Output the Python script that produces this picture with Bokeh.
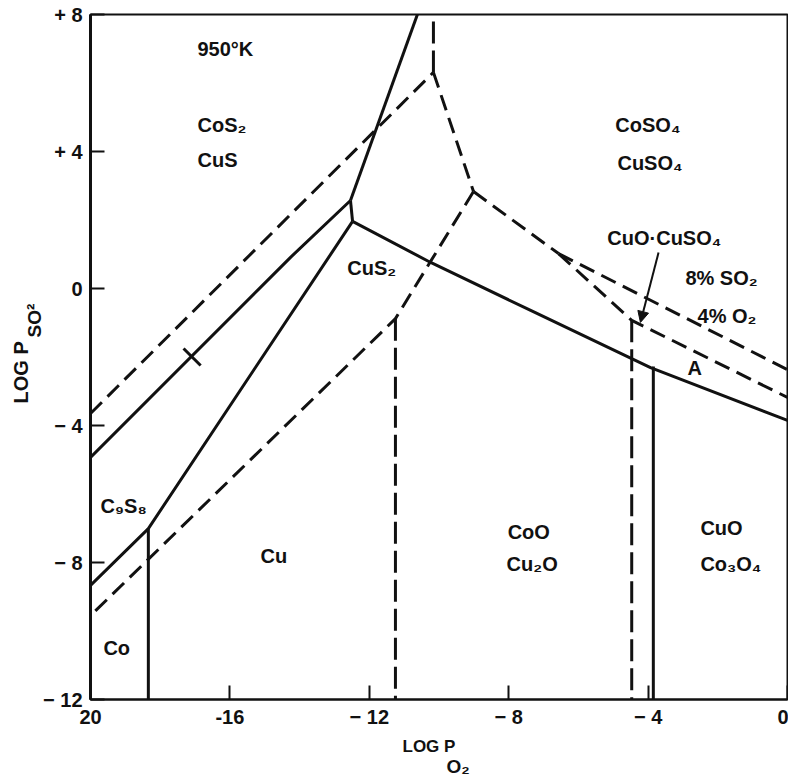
from bokeh.plotting import figure
from bokeh.models import Range1d, FixedTicker, Label, Arrow, NormalHead, Title
from bokeh.embed import file_html
from bokeh.resources import INLINE

# ---------------- data (log P_O2 , log P_SO2) ----------------
x_ticks = [-20, -16, -12, -8, -4, 0]
x_tick_labels = ["20", "-16", "\u2212 12", "\u2212 8", "\u2212 4", "0"]
y_ticks = [8, 4, 0, -4, -8, -12]
y_tick_labels = ["+ 8", "+ 4", "0", "\u2212 4", "\u2212 8", "\u2212 12"]

# solid phase boundaries
solid_a_x = [-20.0, -14.26, -12.54]
solid_a_y = [-4.93, 0.91, 2.57]
solid_b_x = [-12.54, -10.62]
solid_b_y = [2.57, 8.0]
solid_c_x = [-12.54, -12.48]
solid_c_y = [2.57, 1.96]
solid_d_x = [-20.0, -18.34, -12.48]
solid_d_y = [-8.67, -7.01, 1.96]
solid_e_x = [-12.48, -10.24, -7.37, -3.93, 0.0]
solid_e_y = [1.96, 0.76, -0.64, -2.31, -3.85]
solid_f_x = [-18.34, -18.34]
solid_f_y = [-7.01, -12.0]
solid_g_x = [-3.85, -3.85]
solid_g_y = [-2.28, -12.0]

# dashed phase boundaries
dash_a_x = [-20.0, -10.16]
dash_a_y = [-3.65, 6.31]
dash_c_x = [-10.16, -9.01]
dash_c_y = [6.31, 2.83]
dash_d_x = [-9.01, -11.25, -20.0]
dash_d_y = [2.83, -0.88, -9.55]
dash_f_x = [-9.01, -6.57]
dash_f_y = [2.83, 1.02]
dash_g_x = [-6.57, 0.0]
dash_g_y = [1.02, -2.37]
dash_h_x = [-6.57, -4.47, 0.0]
dash_h_y = [1.02, -0.93, -3.18]

# vertical dashed boundaries
vdash_b_x = [-10.16, -10.16]
vdash_b_y = [6.31, 8.0]
vdash_e_x = [-11.25, -11.25]
vdash_e_y = [-0.88, -12.0]
vdash_i_x = [-4.47, -4.47]
vdash_i_y = [-0.93, -12.0]

# small cross mark on the upper solid line
mark_x = [-17.33, -16.84]
mark_y = [-1.75, -2.25]

# arrow from CuO.CuSO4 label
arrow_x = [-3.70, -4.22]
arrow_y = [1.05, -0.99]

# region labels: text, x, y
region_texts = ["950\u00b0K", "CoS\u2082", "CuS", "CuS\u2082", "CoSO\u2084", "CuSO\u2084",
                "CuO\u00b7CuSO\u2084", "8% SO\u2082", "4% O\u2082", "A", "C\u2089S\u2088",
                "Cu", "Co", "CoO", "Cu\u2082O", "CuO", "Co\u2083O\u2084"]
region_x = [-16.93, -16.93, -16.93, -12.63, -4.94, -4.88,
            -5.17, -2.93, -2.58, -2.87, -19.71,
            -15.12, -19.63, -8.03, -8.06, -2.5, -2.5]
region_y = [7.0, 4.76, 3.74, 0.61, 4.76, 3.65,
            1.46, 0.32, -0.79, -2.31, -6.34,
            -7.8, -10.5, -7.12, -8.03, -6.98, -8.03]

# axis titles (main text and subscript)
x_title = ["LOG P", "O\u2082"]
y_title = ["SO\u00b2", "LOG P"]

FONT = "Liberation Sans"
INK = "#111111"

p = figure(width=788, height=777, x_range=Range1d(-20, 0), y_range=Range1d(-12, 8),
           output_backend="svg", toolbar_location=None,
           min_border_left=90, min_border_right=1, min_border_top=14, min_border_bottom=78)
p.background_fill_color = "white"
p.border_fill_color = "white"
p.xgrid.visible = False
p.ygrid.visible = False
p.outline_line_color = INK
p.outline_line_width = 2
p.outline_line_alpha = 1.0

for ax, ticks, labels in ((p.xaxis, x_ticks, x_tick_labels), (p.yaxis, y_ticks, y_tick_labels)):
    ax.ticker = FixedTicker(ticks=ticks)
    ax.major_label_overrides = {t: l for t, l in zip(ticks, labels)}
    ax.major_tick_in = 14
    ax.major_tick_out = 0
    ax.minor_tick_in = 0
    ax.minor_tick_out = 0
    ax.major_tick_line_width = 2
    ax.major_tick_line_color = INK
    ax.axis_line_color = INK
    ax.major_label_text_font = FONT
    ax.major_label_text_font_style = "bold"
    ax.major_label_text_font_size = "20px"
    ax.major_label_text_color = INK
    ax.major_label_standoff = 8
p.xaxis.axis_line_width = 2
p.yaxis.axis_line_width = 3
p.xaxis.major_label_standoff = 6

solids = [(solid_a_x, solid_a_y), (solid_b_x, solid_b_y), (solid_c_x, solid_c_y),
          (solid_d_x, solid_d_y), (solid_e_x, solid_e_y), (solid_f_x, solid_f_y),
          (solid_g_x, solid_g_y), (mark_x, mark_y)]
for xs, ys in solids:
    p.line(xs, ys, line_color=INK, line_width=3, line_join="round")

dashes = [(dash_a_x, dash_a_y), (dash_c_x, dash_c_y), (dash_d_x, dash_d_y),
          (dash_f_x, dash_f_y), (dash_g_x, dash_g_y), (dash_h_x, dash_h_y)]
for xs, ys in dashes:
    p.line(xs, ys, line_color=INK, line_width=3, line_dash="16 8")

vdashes = [(vdash_b_x, vdash_b_y), (vdash_e_x, vdash_e_y), (vdash_i_x, vdash_i_y)]
for xs, ys in vdashes:
    p.line(xs, ys, line_color=INK, line_width=3, line_dash="22 7")

p.add_layout(Arrow(end=NormalHead(size=11, fill_color=INK, line_color=INK),
                   x_start=arrow_x[0], y_start=arrow_y[0], x_end=arrow_x[1], y_end=arrow_y[1],
                   line_color=INK, line_width=2))

for t, x, y in zip(region_texts, region_x, region_y):
    p.add_layout(Label(x=x, y=y, text=t, text_font=FONT, text_font_style="bold",
                       text_font_size="20px", text_color=INK,
                       text_align="left", text_baseline="middle"))

# x-axis title: stacked titles below the axis
p.add_layout(Title(text=x_title[0], align="left", offset=312, standoff=8, text_font=FONT,
                   text_font_style="bold", text_font_size="17px", text_color=INK), "below")
p.add_layout(Title(text=x_title[1], align="left", offset=356, standoff=-8, vertical_align="top",
                   text_font=FONT, text_font_style="bold", text_font_size="19px",
                   text_color=INK), "below")
# y-axis title: stacked titles left of the axis
p.add_layout(Title(text=y_title[0], align="left", offset=362, standoff=-8, text_font=FONT,
                   text_font_style="bold", text_font_size="19px", text_color=INK), "left")
p.add_layout(Title(text=y_title[1], align="left", offset=296, standoff=-12, text_font=FONT,
                   text_font_style="bold", text_font_size="20px", text_color=INK), "left")

open("out.html", "w").write(file_html(p, INLINE))
